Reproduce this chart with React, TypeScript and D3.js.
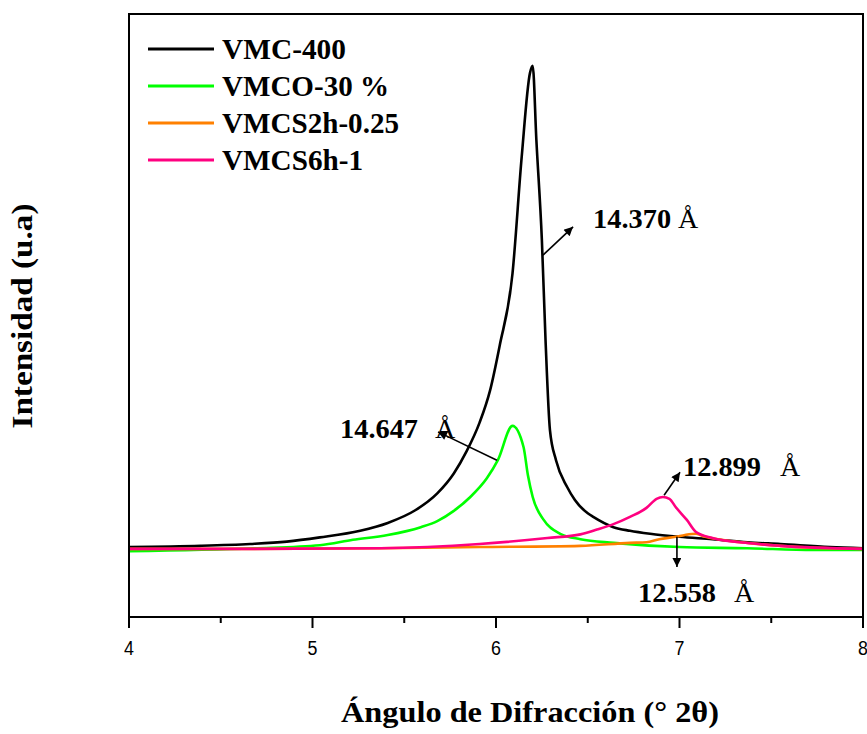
import { useEffect, useRef } from 'react';
import * as d3 from 'd3';

// 2θ (degrees) and intensity (a.u.)
const vmc400X = [4.0, 4.39, 4.66, 4.86, 5.04, 5.26, 5.41, 5.56, 5.68, 5.77, 5.84, 5.91, 5.967, 6.02, 6.09, 6.14, 6.185, 6.2, 6.22, 6.25, 6.27, 6.294, 6.327, 6.387, 6.43, 6.5, 6.53, 6.64, 6.73, 6.84, 7.0, 7.18, 7.37, 7.55, 7.82, 8.0];
const vmc400Y = [116, 118, 121, 125, 132, 143, 156, 177, 205, 238, 275, 322, 375, 450, 570, 763, 902, 914, 791, 625, 459, 310, 260, 216, 194, 172, 166, 149, 143, 138, 133, 129, 124, 121, 116, 114];

const vmco30X = [4.0, 4.68, 5.04, 5.22, 5.41, 5.59, 5.68, 5.77, 5.86, 5.95, 6.01, 6.09, 6.15, 6.174, 6.2, 6.26, 6.35, 6.46, 6.64, 7.0, 7.37, 7.73, 8.0];
const vmco30Y = [109, 114, 119, 128, 136, 149, 159, 176, 199, 230, 260, 317, 282, 235, 199, 161, 138, 129, 123, 116, 114, 111, 111];

const vmcs2hX = [4.0, 4.68, 5.37, 5.91, 6.46, 6.73, 6.82, 6.89, 6.98, 7.03, 7.09, 7.14, 7.21, 7.36, 7.55, 7.82, 8.0];
const vmcs2hY = [113, 113, 114, 116, 118, 123, 124, 129, 133, 136, 138, 133, 129, 123, 118, 114, 113];

const vmcs6hX = [4.0, 4.68, 5.37, 5.91, 6.28, 6.46, 6.55, 6.64, 6.73, 6.82, 6.875, 6.91, 6.945, 6.98, 7.04, 7.09, 7.18, 7.36, 7.55, 8.0];
const vmcs6hY = [113, 113, 114, 121, 131, 137, 145, 154, 166, 181, 196, 199, 196, 182, 161, 141, 131, 123, 118, 113];

const seriesNames = ['VMC-400', 'VMCO-30 %', 'VMCS2h-0.25', 'VMCS6h-1'];
const seriesColors = ['#000000', '#00ff00', '#ff8000', '#ff0080'];
const legendWidths = [124, 167, 177, 141];

const xTicks = [4, 5, 6, 7, 8];
const xMinorTicks = [4.5, 5.5, 6.5, 7.5];

// d-spacing labels: text anchor, Å position and arrow (data units)
const annLabels = ['14.370', '14.647', '12.899', '12.558'];
const annTextX = [6.529, 5.15, 7.019, 6.774];
const annTextY = [645, 297, 234, 25];
const annAngX = [6.992, 5.667, 7.548, 7.297];
const annFrom = [[6.256, 600], [6.005, 260], [6.916, 202], [6.986, 133]];
const annTo = [[6.42, 647], [5.684, 307], [7.003, 240], [6.986, 83]];

const App = () => {
  const ref = useRef<SVGSVGElement>(null);

  useEffect(() => {
    const width = 867;
    const height = 734;
    const left = 129;
    const right = 863;
    const top = 14;
    const bottom = 617;

    const svg = d3.select(ref.current);
    svg.selectAll('*').remove();
    svg.attr('width', width).attr('height', height);

    const x = d3.scaleLinear().domain([4, 8]).range([left, right]);
    const y = d3.scaleLinear().domain([0, 1000]).range([bottom, top]);

    const defs = svg.append('defs');
    defs.append('marker')
      .attr('id', 'arrow')
      .attr('viewBox', '0 0 10 10')
      .attr('refX', 10)
      .attr('refY', 5)
      .attr('markerWidth', 11)
      .attr('markerHeight', 9)
      .attr('markerUnits', 'userSpaceOnUse')
      .attr('orient', 'auto')
      .append('path')
      .attr('d', 'M0,0 L10,5 L0,10 Z')
      .attr('fill', '#000');
    defs.append('clipPath').attr('id', 'plotclip')
      .append('rect')
      .attr('x', left).attr('y', top)
      .attr('width', right - left).attr('height', bottom - top);

    const xs = [vmc400X, vmco30X, vmcs2hX, vmcs6hX];
    const ys = [vmc400Y, vmco30Y, vmcs2hY, vmcs6hY];
    const line = d3.line<[number, number]>()
      .x((d) => x(d[0]))
      .y((d) => y(d[1]))
      .curve(d3.curveMonotoneX);

    const plot = svg.append('g').attr('clip-path', 'url(#plotclip)');
    [0, 1, 2, 3].forEach((i) => {
      const pts = xs[i].map((v, j) => [v, ys[i][j]] as [number, number]);
      plot.append('path')
        .attr('d', line(pts))
        .attr('fill', 'none')
        .attr('stroke', seriesColors[i])
        .attr('stroke-width', 2.6)
        .attr('stroke-linejoin', 'round');
    });

    // frame
    svg.append('rect')
      .attr('x', left).attr('y', top)
      .attr('width', right - left).attr('height', bottom - top)
      .attr('fill', 'none')
      .attr('stroke', '#000')
      .attr('stroke-width', 2);

    // x axis ticks and labels
    const ax = svg.append('g').attr('transform', `translate(0,${bottom})`);
    ax.selectAll('line.major')
      .data(xTicks)
      .enter().append('line')
      .attr('class', 'major')
      .attr('x1', (d) => x(d)).attr('x2', (d) => x(d))
      .attr('y1', 0).attr('y2', 11)
      .attr('stroke', '#000')
      .attr('stroke-width', 2);
    ax.selectAll('line.minor')
      .data(xMinorTicks)
      .enter().append('line')
      .attr('class', 'minor')
      .attr('x1', (d) => x(d)).attr('x2', (d) => x(d))
      .attr('y1', 0).attr('y2', 6)
      .attr('stroke', '#000')
      .attr('stroke-width', 2);
    ax.selectAll('text')
      .data(xTicks)
      .enter().append('text')
      .attr('transform', (d) => `translate(${x(d)},38) scale(0.85,1)`)
      .attr('text-anchor', 'middle')
      .attr('font-family', 'Liberation Sans, Arial, sans-serif')
      .attr('font-size', 21)
      .attr('fill', '#000')
      .text((d) => d3.format('d')(d));

    const serif = 'Liberation Serif, Times New Roman, serif';

    // legend
    const legend = svg.append('g');
    seriesNames.forEach((name, i) => {
      const ly = 49 + i * 37;
      legend.append('line')
        .attr('x1', 148).attr('x2', 214)
        .attr('y1', ly).attr('y2', ly)
        .attr('stroke', seriesColors[i])
        .attr('stroke-width', 3);
      legend.append('text')
        .attr('x', 222).attr('y', ly + 10)
        .attr('font-family', serif)
        .attr('font-weight', 'bold')
        .attr('font-size', 29)
        .attr('textLength', legendWidths[i])
        .attr('lengthAdjust', 'spacingAndGlyphs')
        .text(name);
    });

    // annotations
    annLabels.forEach((lab, i) => {
      svg.append('line')
        .attr('x1', x(annFrom[i][0])).attr('y1', y(annFrom[i][1]))
        .attr('x2', x(annTo[i][0])).attr('y2', y(annTo[i][1]))
        .attr('stroke', '#000')
        .attr('stroke-width', 1.6)
        .attr('marker-end', 'url(#arrow)');
      svg.append('text')
        .attr('x', x(annTextX[i])).attr('y', y(annTextY[i]))
        .attr('font-family', serif)
        .attr('font-weight', 'bold')
        .attr('font-size', 28)
        .attr('textLength', 78)
        .attr('lengthAdjust', 'spacingAndGlyphs')
        .text(lab);
      svg.append('text')
        .attr('x', x(annAngX[i])).attr('y', y(annTextY[i]))
        .attr('font-family', serif)
        .attr('font-size', 28)
        .text('Å');
    });

    // axis titles
    svg.append('text')
      .attr('transform', 'translate(32,316) rotate(-90)')
      .attr('text-anchor', 'middle')
      .attr('font-family', serif)
      .attr('font-weight', 'bold')
      .attr('font-size', 30)
      .attr('textLength', 225)
      .attr('lengthAdjust', 'spacingAndGlyphs')
      .text('Intensidad (u.a)');

    svg.append('text')
      .attr('x', 530).attr('y', 722)
      .attr('text-anchor', 'middle')
      .attr('font-family', serif)
      .attr('font-weight', 'bold')
      .attr('font-size', 29)
      .attr('textLength', 378)
      .attr('lengthAdjust', 'spacingAndGlyphs')
      .text('Ángulo de Difracción (° 2θ)');
  }, []);

  return (
    <svg
      ref={ref}
      style={{ position: 'absolute', left: 0, top: 0, display: 'block', background: '#fff' }}
    ></svg>
  );
};

export default App;
